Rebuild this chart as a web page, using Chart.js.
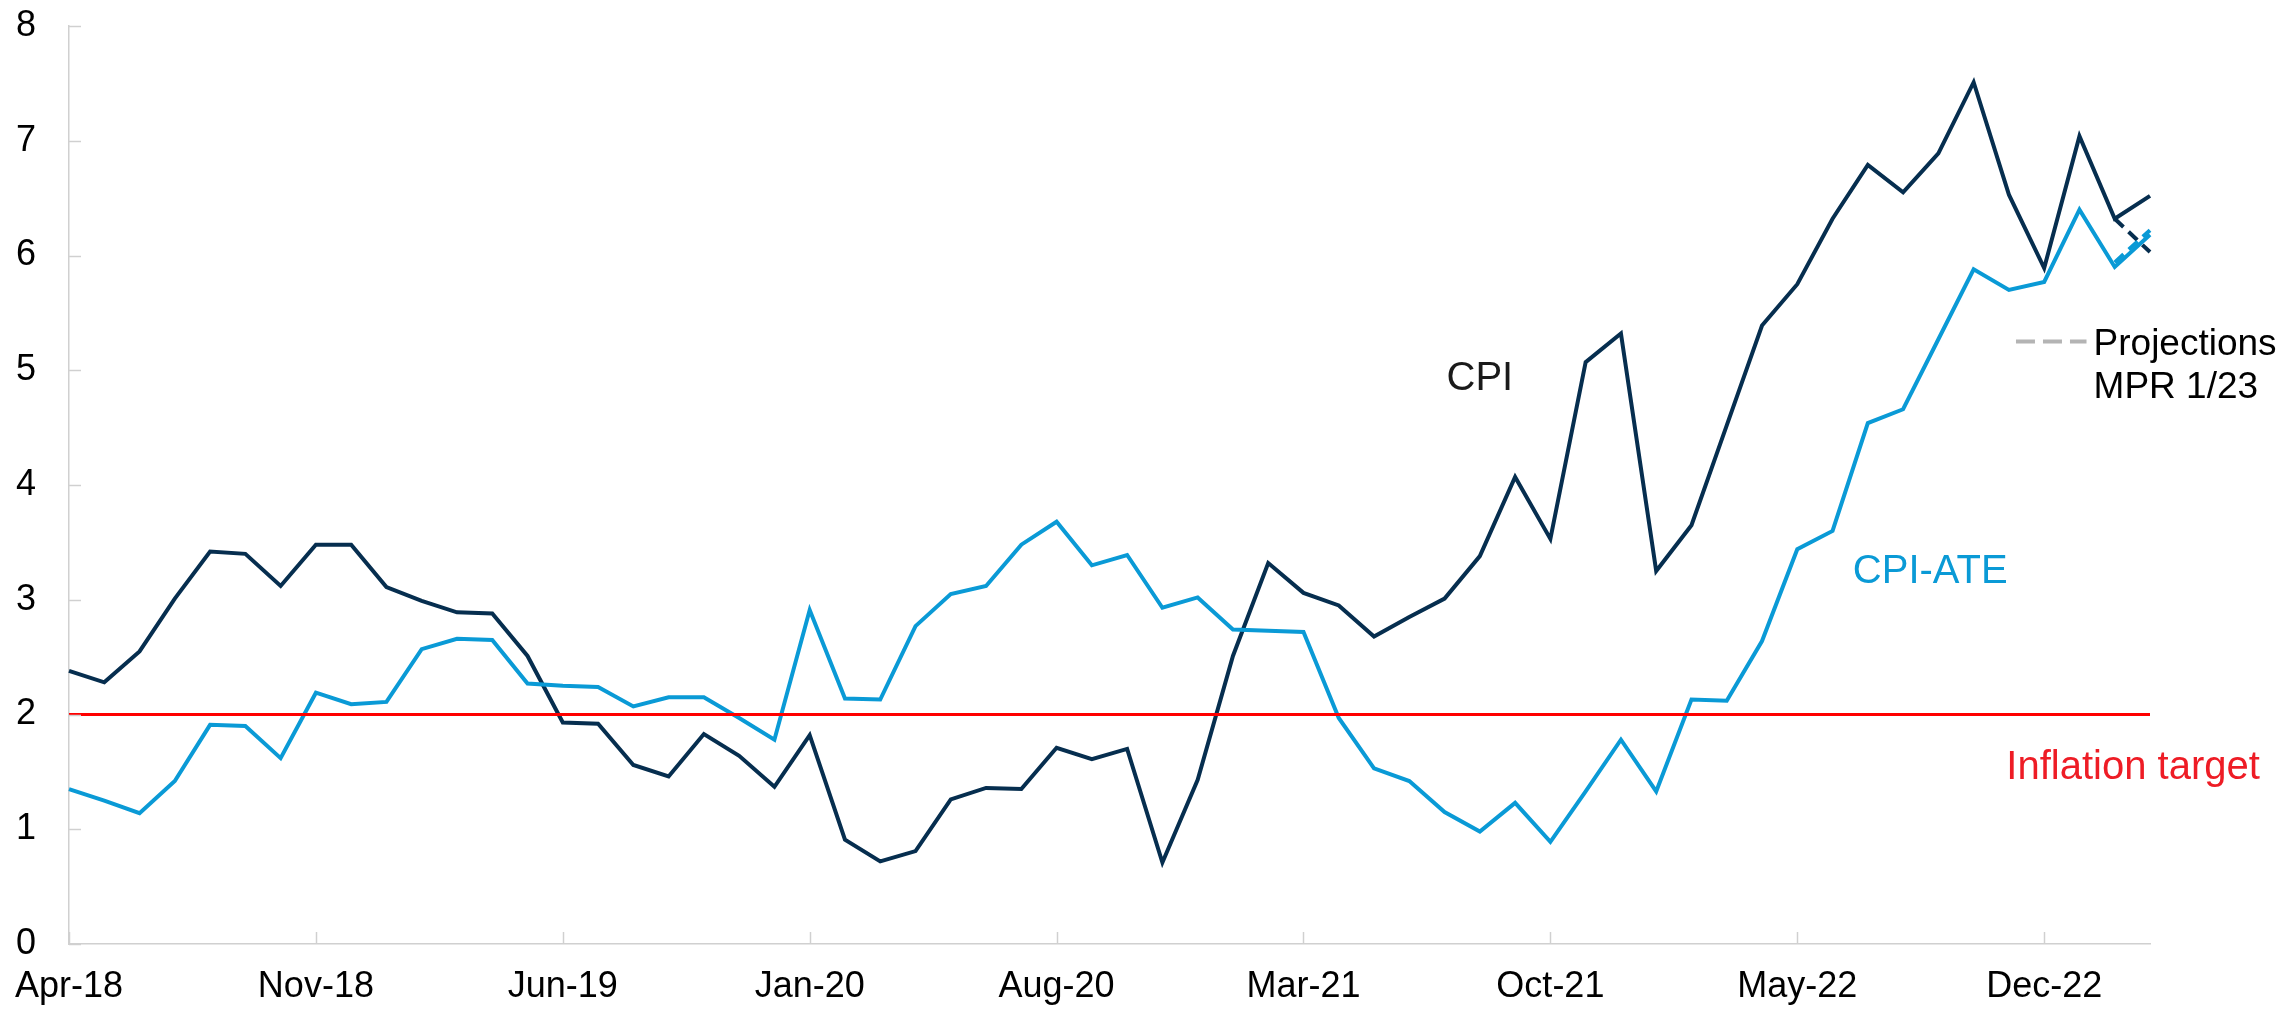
<!DOCTYPE html>
<html>
<head>
<meta charset="utf-8">
<script src="https://cdn.jsdelivr.net/npm/chart.js@4"></script>
<style>
  html, body { margin: 0; padding: 0; background: #ffffff; }
  #wrap { width: 2287px; height: 1009px; }
</style>
</head>
<body>
<div id="wrap"><canvas id="myChart" width="2287" height="1009"></canvas></div>
<script>
// months Apr-18 .. Mar-23
var months = [
  "Apr-18","May-18","Jun-18","Jul-18","Aug-18","Sep-18","Oct-18","Nov-18","Dec-18",
  "Jan-19","Feb-19","Mar-19","Apr-19","May-19","Jun-19","Jul-19","Aug-19","Sep-19","Oct-19","Nov-19","Dec-19",
  "Jan-20","Feb-20","Mar-20","Apr-20","May-20","Jun-20","Jul-20","Aug-20","Sep-20","Oct-20","Nov-20","Dec-20",
  "Jan-21","Feb-21","Mar-21","Apr-21","May-21","Jun-21","Jul-21","Aug-21","Sep-21","Oct-21","Nov-21","Dec-21",
  "Jan-22","Feb-22","Mar-22","Apr-22","May-22","Jun-22","Jul-22","Aug-22","Sep-22","Oct-22","Nov-22","Dec-22",
  "Jan-23","Feb-23","Mar-23"
];

var cpi = [
  2.38, 2.28, 2.55, 3.01, 3.42, 3.40, 3.12, 3.48, 3.48,
  3.11, 2.99, 2.89, 2.88, 2.51, 1.93, 1.92, 1.56, 1.46, 1.83, 1.64, 1.37,
  1.82, 0.91, 0.72, 0.81, 1.26, 1.36, 1.35, 1.71, 1.61, 1.70, 0.71, 1.43,
  2.51, 3.32, 3.06, 2.95, 2.68, 2.85, 3.01, 3.38, 4.07, 3.53, 5.07, 5.32,
  3.25, 3.65, 4.52, 5.39, 5.75, 6.32, 6.79, 6.55, 6.89, 7.51, 6.53, 5.89,
  7.04, 6.32, 6.52
];

var cpiAte = [
  1.35, 1.25, 1.14, 1.42, 1.91, 1.90, 1.62, 2.19, 2.09,
  2.11, 2.57, 2.66, 2.65, 2.27, 2.25, 2.24, 2.07, 2.15, 2.15, 1.97, 1.78,
  2.91, 2.14, 2.13, 2.77, 3.05, 3.12, 3.48, 3.68, 3.30, 3.39, 2.93, 3.02,
  2.74, 2.73, 2.72, 1.97, 1.53, 1.42, 1.15, 0.98, 1.23, 0.89, 1.33, 1.78,
  1.33, 2.13, 2.12, 2.64, 3.44, 3.60, 4.54, 4.66, 5.27, 5.88, 5.70, 5.77,
  6.40, 5.90, 6.18
];

// MPR 1/23 projections (Feb-23, Mar-23)
var projMonths = ["Feb-23", "Mar-23"];
var cpiProj = [6.32, 6.03];
var cpiAteProj = [5.94, 6.22];

var inflationTarget = 2;

var yTicks = [0, 1, 2, 3, 4, 5, 6, 7, 8];

var navy = "#062e4f";
var blue = "#0a9ad6";
var red = "#ff0000";
var axisGray = "#d0d0d0";
var FONT = "'Liberation Sans', Arial, sans-serif";

function placeOnMonths(vals, mths) {
  var out = months.map(function () { return null; });
  for (var i = 0; i < mths.length; i++) {
    out[months.indexOf(mths[i])] = vals[i];
  }
  return out;
}

function noPad(scale) {
  scale.paddingTop = 0; scale.paddingBottom = 0;
  scale.paddingLeft = 0; scale.paddingRight = 0;
}

// inward tick marks + texts
var decorPlugin = {
  id: "decor",
  afterDraw: function (chart) {
    var ctx = chart.ctx;
    var xs = chart.scales.x, ys = chart.scales.y;
    var area = chart.chartArea;
    ctx.save();
    ctx.strokeStyle = axisGray;
    ctx.lineWidth = 1.5;
    for (var i = 0; i < months.length; i += 7) {
      var px = Math.round(xs.getPixelForValue(i)) + 0.5;
      ctx.beginPath();
      ctx.moveTo(px, area.bottom);
      ctx.lineTo(px, area.bottom - 12);
      ctx.stroke();
    }
    yTicks.forEach(function (t) {
      var py = Math.round(ys.getPixelForValue(t)) + 0.5;
      ctx.beginPath();
      ctx.moveTo(area.left, py);
      ctx.lineTo(area.left + 12, py);
      ctx.stroke();
    });

    ctx.textBaseline = "alphabetic";
    ctx.font = "40px " + FONT;
    ctx.textAlign = "center";
    ctx.fillStyle = "#1a1a1a";
    ctx.fillText("CPI", xs.getPixelForValue(40.0), ys.getPixelForValue(4.83));
    ctx.fillStyle = blue;
    ctx.fillText("CPI-ATE", xs.getPixelForValue(52.77), ys.getPixelForValue(3.15));
    ctx.fillStyle = "#ee1c25";
    ctx.fillText("Inflation target", xs.getPixelForValue(58.52), ys.getPixelForValue(1.44));

    // projections legend
    ctx.strokeStyle = "#b4b4b4";
    ctx.lineWidth = 4;
    ctx.setLineDash([19, 8]);
    var ly = ys.getPixelForValue(5.25);
    ctx.beginPath();
    ctx.moveTo(xs.getPixelForValue(55.2), ly);
    ctx.lineTo(xs.getPixelForValue(57.2), ly);
    ctx.stroke();
    ctx.setLineDash([]);
    ctx.font = "37px " + FONT;
    ctx.textAlign = "left";
    ctx.fillStyle = "#000000";
    ctx.fillText("Projections", xs.getPixelForValue(57.4), ys.getPixelForValue(5.13));
    ctx.fillText("MPR 1/23", xs.getPixelForValue(57.4), ys.getPixelForValue(4.76));
    ctx.restore();
  }
};

var ctx = document.getElementById("myChart").getContext("2d");
var myChart = new Chart(ctx, {
  type: "line",
  data: {
    labels: months,
    datasets: [
      { label: "Inflation target", data: months.map(function () { return inflationTarget; }),
        borderColor: red, borderWidth: 3, pointRadius: 0 },
      { label: "CPI-ATE", data: cpiAte, borderColor: blue, borderWidth: 4, pointRadius: 0 },
      { label: "CPI-ATE projection", data: placeOnMonths(cpiAteProj, projMonths),
        borderColor: blue, borderWidth: 4, pointRadius: 0, borderDash: [12, 7] },
      { label: "CPI", data: cpi, borderColor: navy, borderWidth: 4, pointRadius: 0 },
      { label: "CPI projection", data: placeOnMonths(cpiProj, projMonths),
        borderColor: navy, borderWidth: 4, pointRadius: 0, borderDash: [12, 7] }
    ]
  },
  options: {
    responsive: false,
    animation: false,
    layout: { padding: { left: 0, right: 137, top: 26, bottom: 0 } },
    plugins: { legend: { display: false }, tooltip: { enabled: false } },
    scales: {
      x: {
        type: "category",
        offset: false,
        grid: { display: false, drawTicks: false, tickLength: 0 },
        border: { display: true, color: axisGray, width: 1.5 },
        ticks: {
          autoSkip: false, maxRotation: 0, padding: 21, color: "#000000",
          font: { family: FONT, size: 36 },
          callback: function (value, index) {
            return index % 7 === 0 ? months[index] : null;
          }
        },
        afterFit: function (scale) { scale.height = 65; noPad(scale); }
      },
      y: {
        min: 0, max: 8,
        grid: { display: false, drawTicks: false, tickLength: 0 },
        border: { display: true, color: axisGray, width: 1.5 },
        ticks: { stepSize: 1, padding: 33, color: "#000000", font: { family: FONT, size: 36 } },
        afterFit: function (scale) { scale.width = 69; noPad(scale); }
      }
    }
  },
  plugins: [decorPlugin]
});
</script>
</body>
</html>
